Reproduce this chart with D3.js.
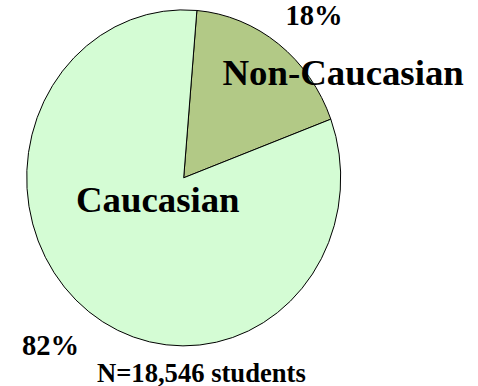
<!DOCTYPE html>
<html>
<head>
<meta charset="utf-8">
<script src="https://cdn.jsdelivr.net/npm/d3@7"></script>
<style>
html,body{margin:0;padding:0;background:#fff;}
svg{display:block;}
text{font-family:"Liberation Serif","Times New Roman",serif;font-weight:bold;fill:#000;}
</style>
</head>
<body>
<svg id="chart" width="478" height="386"></svg>
<script>
const categories = ["Non-Caucasian", "Caucasian"];
const values = [18, 82];
const percentLabels = ["18%", "82%"];
const colors = ["#b2c986", "#d4fcd4"];
const note = "N=18,546 students";

const svg = d3.select("#chart");
const cx = 183.7, cy = 177.8, rx = 157, ry = 168;

const pie = d3.pie().sort(null).value(d => d)
  .startAngle(4.8 * Math.PI / 180)
  .endAngle((360 + 4.8) * Math.PI / 180);
const arcs = pie(values);
const arc = d3.arc().innerRadius(0).outerRadius(1);

const g = svg.append("g").attr("transform", `translate(${cx},${cy}) scale(${rx},${ry})`);
g.selectAll("path").data(arcs).join("path")
  .attr("d", arc)
  .attr("fill", (d, i) => colors[i])
  .attr("stroke", "#000")
  .attr("stroke-width", 1)
  .attr("vector-effect", "non-scaling-stroke");

// category labels
const catPos = [{x: 222.5, y: 85, size: 36.8}, {x: 76, y: 212, size: 36.8}];
svg.selectAll("text.cat").data(categories).join("text")
  .attr("class", "cat")
  .attr("x", (d, i) => catPos[i].x)
  .attr("y", (d, i) => catPos[i].y)
  .attr("font-size", (d, i) => catPos[i].size)
  .text(d => d);

// percent labels
const pctPos = [{x: 285.5, y: 25}, {x: 22, y: 355}];
svg.selectAll("text.pct").data(percentLabels).join("text")
  .attr("class", "pct")
  .attr("x", (d, i) => pctPos[i].x)
  .attr("y", (d, i) => pctPos[i].y)
  .attr("font-size", 28.6)
  .text(d => d);

svg.append("text")
  .attr("x", 97)
  .attr("y", 381.5)
  .attr("font-size", 26.6)
  .text(note);
</script>
</body>
</html>
